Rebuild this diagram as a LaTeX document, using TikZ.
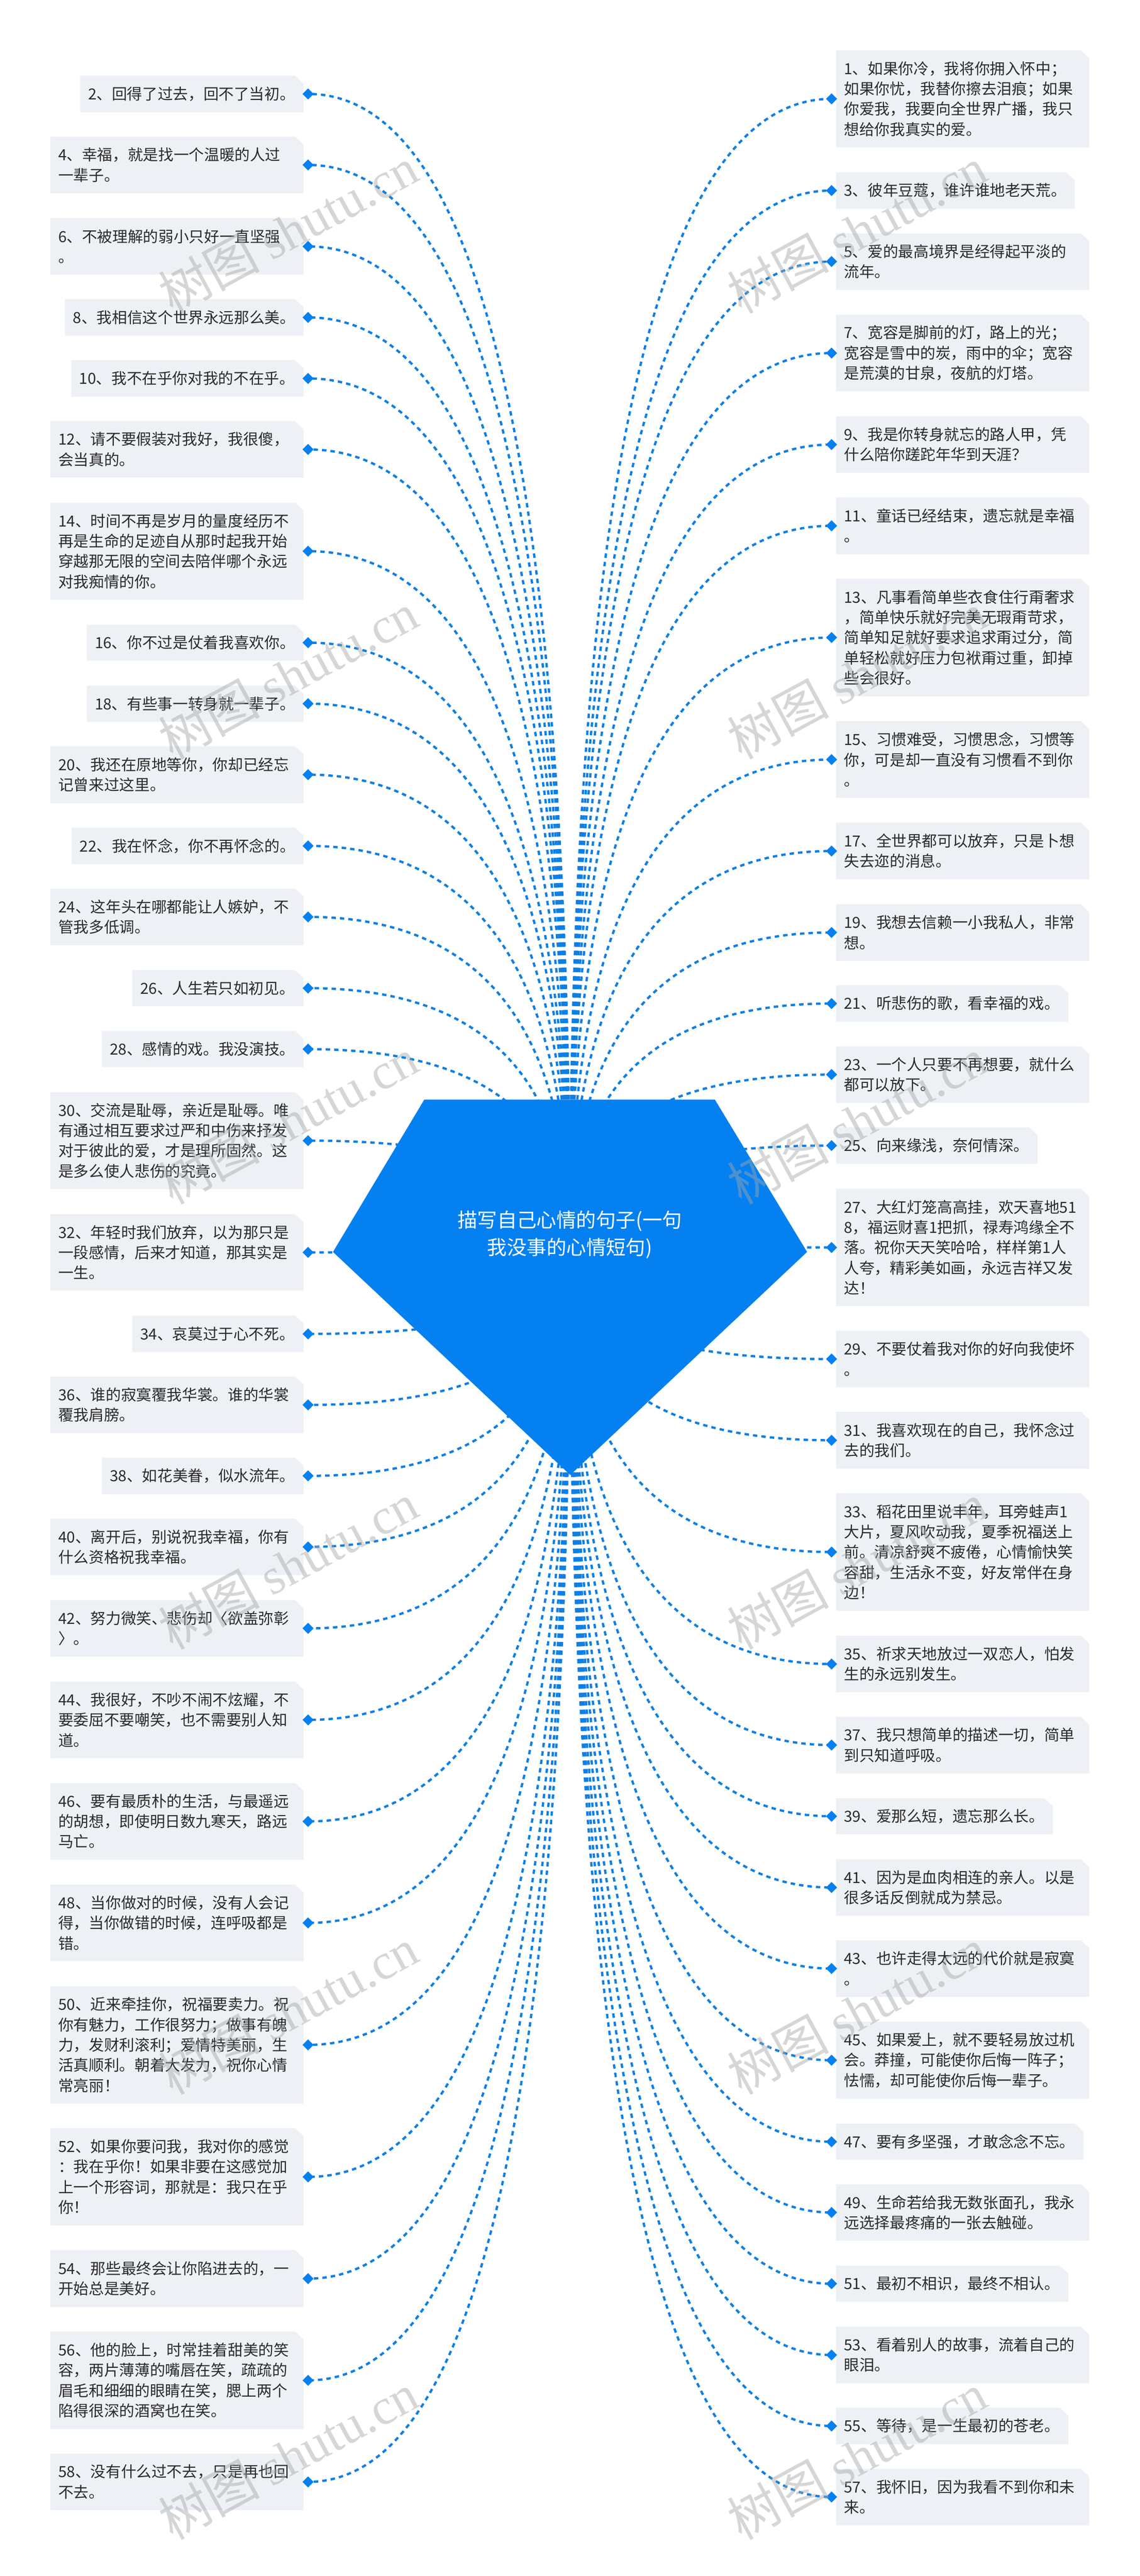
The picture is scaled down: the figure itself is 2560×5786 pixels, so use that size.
\documentclass[tikz,border=0pt]{standalone}
\usepackage{fontspec}
\setmainfont{Noto Sans CJK SC}
\newfontfamily\wmlatin{Liberation Serif}
\usetikzlibrary{calc,shapes.geometric}
\definecolor{brandblue}{HTML}{0580F0}
\definecolor{linkblue}{HTML}{0D7FE6}
\definecolor{cardbg}{HTML}{EDF1F5}
\definecolor{inktext}{HTML}{2A2A2A}
\pgfdeclarelayer{paper}
\pgfdeclarelayer{links}
\pgfdeclarelayer{marks}
\pgfsetlayers{paper,links,main,marks}
\tikzset{
  cardshape/.style={fill=cardbg},
  cardtext/.style={inner sep=0pt,outer sep=0pt,align=left,text=inktext,
    font=\fontsize{34.3}{45.5}\selectfont,anchor=west},
  linkdia/.style={diamond,aspect=1,fill=brandblue,inner sep=0pt,minimum width=25pt,minimum height=25pt},
  linkpath/.style={draw=linkblue,line width=5.2pt,dash pattern=on 10pt off 9.05pt},
  roottext/.style={inner sep=0pt,align=center,text=white,font=\fontsize{44.5}{61}\selectfont},
  wmark/.style={inner sep=0pt,text=gray!70,text opacity=.45,rotate=28.5,font=\fontsize{114}{114}\selectfont}
}
\newcommand{\linkto}[1]{%
  \begin{pgfonlayer}{links}
    \draw[linkpath] (hub) .. controls ($(hub)!2/3!(hub |- #1.center)$) and ($(#1.center)!2/3!(#1.center -| hub)$) .. (#1.center);
  \end{pgfonlayer}}
% left card: number, x0, y0, y1, text
\newcommand{\qL}[5]{%
  \pgfmathsetmacro{\cyv}{(#3+#4)/2}
  \fill[cardshape] (#2,#3) -- (663,#3) -- (682,#3+18) -- (682,#4) -- (#2,#4) -- cycle;
  \node[cardtext] (t#1) at (#2+18,\cyv) {#5};
  \node[linkdia] (d#1) at (692,\cyv) {};
  \linkto{d#1}}
% right card: number, x1, y0, y1, text
\newcommand{\qR}[5]{%
  \pgfmathsetmacro{\cyv}{(#3+#4)/2}
  \fill[cardshape] (1878,#3) -- (#2-19,#3) -- (#2,#3+18) -- (#2,#4) -- (1878,#4) -- cycle;
  \node[cardtext] (t#1) at (1896,\cyv) {#5};
  \node[linkdia] (d#1) at (1868,\cyv) {};
  \linkto{d#1}}
\begin{document}
\begin{tikzpicture}[x=1pt,y=-1pt]
\useasboundingbox (0,0) rectangle (2560,5786);
\begin{pgfonlayer}{paper}
\fill[white] (0,0) rectangle (2560,5786);
\end{pgfonlayer}
\coordinate (hub) at (1280,2812);
\fill[brandblue] (953,2470) -- (1606,2470) -- (1813,2812) -- (1281,3313) -- (748,2812) -- cycle;
\node[roottext] (root) at (1280,2773) {描写自己心情的句子(一句\\我没事的心情短句)};

\qL{2}{180}{170}{252}{2、回得了过去，回不了当初。}
\qL{4}{113}{307}{434}{4、幸福，就是找一个温暖的人过\\一辈子。}
\qL{6}{113}{490}{617}{6、不被理解的弱小只好一直坚强\\。}
\qL{8}{146}{672}{754}{8、我相信这个世界永远那么美。}
\qL{10}{160}{809}{891}{10、我不在乎你对我的不在乎。}
\qL{12}{113}{946}{1073}{12、请不要假装对我好，我很傻，\\会当真的。}
\qL{14}{113}{1129}{1347}{14、时间不再是岁月的量度经历不\\再是生命的足迹自从那时起我开始\\穿越那无限的空间去陪伴哪个永远\\对我痴情的你。}
\qL{16}{195}{1403}{1484}{16、你不过是仗着我喜欢你。}
\qL{18}{195}{1540}{1621}{18、有些事一转身就一辈子。}
\qL{20}{113}{1676}{1804}{20、我还在原地等你，你却已经忘\\记曾来过这里。}
\qL{22}{161}{1859}{1941}{22、我在怀念，你不再怀念的。}
\qL{24}{113}{1996}{2123}{24、这年头在哪都能让人嫉妒，不\\管我多低调。}
\qL{26}{297}{2179}{2260}{26、人生若只如初见。}
\qL{28}{229}{2316}{2397}{28、感情的戏。我没演技。}
\qL{30}{113}{2453}{2671}{30、交流是耻辱，亲近是耻辱。唯\\有通过相互要求过严和中伤来抒发\\对于彼此的爱，才是理所固然。这\\是多么使人悲伤的究竟。}
\qL{32}{113}{2727}{2899}{32、年轻时我们放弃，以为那只是\\一段感情，后来才知道，那其实是\\一生。}
\qL{34}{297}{2955}{3037}{34、哀莫过于心不死。}
\qL{36}{113}{3092}{3219}{36、谁的寂寞覆我华裳。谁的华裳\\覆我肩膀。}
\qL{38}{229}{3274}{3356}{38、如花美眷，似水流年。}
\qL{40}{113}{3411}{3538}{40、离开后，别说祝我幸福，你有\\什么资格祝我幸福。}
\qL{42}{113}{3594}{3721}{42、努力微笑、悲伤却〈欲盖弥彰\\〉。}
\qL{44}{113}{3777}{3949}{44、我很好，不吵不闹不炫耀，不\\要委屈不要嘲笑，也不需要别人知\\道。}
\qL{46}{113}{4005}{4177}{46、要有最质朴的生活，与最遥远\\的胡想，即使明日数九寒天，路远\\马亡。}
\qL{48}{113}{4233}{4405}{48、当你做对的时候，没有人会记\\得，当你做错的时候，连呼吸都是\\错。}
\qL{50}{113}{4461}{4725}{50、近来牵挂你，祝福要卖力。祝\\你有魅力，工作很努力；做事有魄\\力，发财利滚利；爱情特美丽，生\\活真顺利。朝着大发力，祝你心情\\常亮丽！}
\qL{52}{113}{4780}{4999}{52、如果你要问我，我对你的感觉\\：我在乎你！如果非要在这感觉加\\上一个形容词，那就是：我只在乎\\你！}
\qL{54}{113}{5054}{5182}{54、那些最终会让你陷进去的，一\\开始总是美好。}
\qL{56}{113}{5237}{5456}{56、他的脸上，时常挂着甜美的笑\\容，两片薄薄的嘴唇在笑，疏疏的\\眉毛和细细的眼睛在笑，腮上两个\\陷得很深的酒窝也在笑。}
\qL{58}{113}{5511}{5638}{58、没有什么过不去，只是再也回\\不去。}

\qR{1}{2447}{113}{331}{1、如果你冷，我将你拥入怀中；\\如果你忧，我替你擦去泪痕；如果\\你爱我，我要向全世界广播，我只\\想给你我真实的爱。}
\qR{3}{2414}{387}{469}{3、彼年豆蔻，谁许谁地老天荒。}
\qR{5}{2447}{524}{651}{5、爱的最高境界是经得起平淡的\\流年。}
\qR{7}{2447}{707}{879}{7、宽容是脚前的灯，路上的光；\\宽容是雪中的炭，雨中的伞；宽容\\是荒漠的甘泉，夜航的灯塔。}
\qR{9}{2447}{935}{1062}{9、我是你转身就忘的路人甲，凭\\什么陪你蹉跎年华到天涯？}
\qR{11}{2447}{1117}{1245}{11、童话已经结束，遗忘就是幸福\\。}
\qR{13}{2447}{1300}{1564}{13、凡事看简单些衣食住行甭奢求\\，简单快乐就好完美无瑕甭苛求，\\简单知足就好要求追求甭过分，简\\单轻松就好压力包袱甭过重，卸掉\\些会很好。}
\qR{15}{2447}{1620}{1792}{15、习惯难受，习惯思念，习惯等\\你，可是却一直没有习惯看不到你\\。}
\qR{17}{2447}{1848}{1975}{17、全世界都可以放弃，只是卜想\\失去迩的消息。}
\qR{19}{2447}{2031}{2158}{19、我想去信赖一小我私人，非常\\想。}
\qR{21}{2400}{2213}{2295}{21、听悲伤的歌，看幸福的戏。}
\qR{23}{2447}{2350}{2477}{23、一个人只要不再想要，就什么\\都可以放下。}
\qR{25}{2331}{2532}{2614}{25、向来缘浅，奈何情深。}
\qR{27}{2447}{2670}{2934}{27、大红灯笼高高挂，欢天喜地51\\8，福运财喜1把抓，禄寿鸿缘全不\\落。祝你天天笑哈哈，样样第1人\\人夸，精彩美如画，永远吉祥又发\\达！}
\qR{29}{2447}{2989}{3116}{29、不要仗着我对你的好向我使坏\\。}
\qR{31}{2447}{3171}{3299}{31、我喜欢现在的自己，我怀念过\\去的我们。}
\qR{33}{2447}{3354}{3618}{33、稻花田里说丰年，耳旁蛙声1\\大片，夏风吹动我，夏季祝福送上\\前。清凉舒爽不疲倦，心情愉快笑\\容甜，生活永不变，好友常伴在身\\边！}
\qR{35}{2447}{3674}{3801}{35、祈求天地放过一双恋人，怕发\\生的永远别发生。}
\qR{37}{2447}{3856}{3983}{37、我只想简单的描述一切，简单\\到只知道呼吸。}
\qR{39}{2365}{4039}{4120}{39、爱那么短，遗忘那么长。}
\qR{41}{2447}{4176}{4303}{41、因为是血肉相连的亲人。以是\\很多话反倒就成为禁忌。}
\qR{43}{2447}{4358}{4485}{43、也许走得太远的代价就是寂寞\\。}
\qR{45}{2447}{4541}{4714}{45、如果爱上，就不要轻易放过机\\会。莽撞，可能使你后悔一阵子；\\怯懦，却可能使你后悔一辈子。}
\qR{47}{2434}{4770}{4851}{47、要有多坚强，才敢念念不忘。}
\qR{49}{2447}{4906}{5033}{49、生命若给我无数张面孔，我永\\远选择最疼痛的一张去触碰。}
\qR{51}{2400}{5089}{5170}{51、最初不相识，最终不相认。}
\qR{53}{2447}{5226}{5353}{53、看着别人的故事，流着自己的\\眼泪。}
\qR{55}{2400}{5408}{5490}{55、等待，是一生最初的苍老。}
\qR{57}{2447}{5545}{5672}{57、我怀旧，因为我看不到你和未\\来。}

\begin{pgfonlayer}{marks}
\foreach \k in {0,...,5}{
  \node[wmark] (wl\k) at (647,517+1000*\k) {树图 {\wmlatin shutu.cn}};
  \node[wmark] (wr\k) at (1925,517+1000*\k) {树图 {\wmlatin shutu.cn}};
}
\end{pgfonlayer}
\end{tikzpicture}
\end{document}
